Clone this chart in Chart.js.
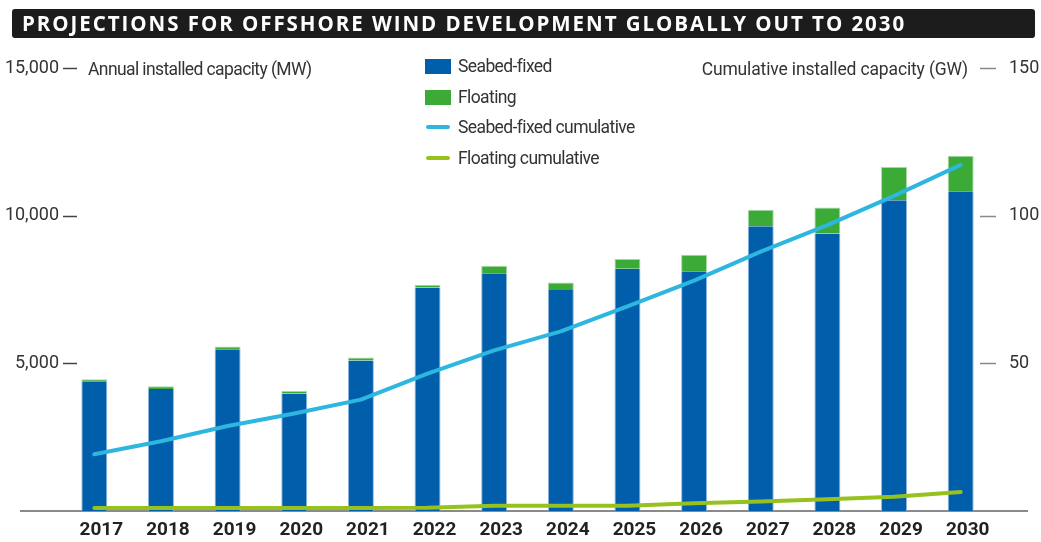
<!DOCTYPE html>
<html>
<head>
<meta charset="utf-8">
<title>Offshore wind projections</title>
<script src="https://cdn.jsdelivr.net/npm/chart.js@4"></script>
<style>
  html, body { margin: 0; padding: 0; background: #fff; }
  #wrap { position: relative; width: 1041px; height: 542px; overflow: hidden; font-family: Roboto, "Open Sans", sans-serif; }
  #chart { position: absolute; left: 0; top: 0; }
  #title {
    position: absolute; left: 12px; top: 9px; width: 1023px; height: 29px;
    background: #1c1c1c; border-radius: 3px; color: #fff;
    font: bold 20.5px "Open Sans", sans-serif; letter-spacing: 1.95px;
    line-height: 29px; padding-left: 10px; box-sizing: border-box; white-space: nowrap;
  }
  .axis-title { position: absolute; top: 57px; font-size: 17.5px; color: #333; white-space: nowrap; line-height: 24px; }
  #left-title { left: 88px; letter-spacing: -0.6px; }
  #right-title { right: 73px; letter-spacing: -0.15px; }
  #legend { position: absolute; left: 425px; top: 51px; }
  .item { position: relative; height: 30.5px; line-height: 30.5px; padding-left: 33px; font-size: 17.5px; letter-spacing: -0.6px; color: #333; white-space: nowrap; }
  .item .box { position: absolute; left: 0; top: 8px; width: 26px; height: 15px; }
  .item .line { position: absolute; left: 1px; top: 13px; width: 24px; height: 4px; border-radius: 2px; }
</style>
</head>
<body>
<div id="wrap">
  <canvas id="chart" width="1041" height="542"></canvas>
  <div id="title">PROJECTIONS FOR OFFSHORE WIND DEVELOPMENT GLOBALLY OUT TO 2030</div>
  <div class="axis-title" id="left-title">Annual installed capacity (MW)</div>
  <div class="axis-title" id="right-title">Cumulative installed capacity (GW)</div>
  <div id="legend"></div>
</div>
<script>
// Years
const YEARS = ['2017', '2018', '2019', '2020', '2021', '2022', '2023', '2024', '2025', '2026', '2027', '2028', '2029', '2030'];

// Annual installed capacity (MW)
const SEABED_ANNUAL = [4390, 4130, 5480, 3980, 5100, 7570, 8050, 7480, 8200, 8120, 9640, 9400, 10520, 10830];
const FLOATING_ANNUAL = [70, 90, 90, 80, 100, 90, 250, 260, 330, 560, 560, 880, 1130, 1200];

// Cumulative installed capacity (GW)
const SEABED_CUMULATIVE = [19.2, 23.6, 28.8, 33.0, 37.7, 46.5, 54.4, 60.8, 69.3, 78.0, 87.8, 96.8, 106.7, 117.2];
const FLOATING_CUMULATIVE = [1.0, 1.0, 1.0, 1.0, 1.0, 1.1, 1.8, 1.8, 1.8, 2.6, 3.2, 4.0, 4.8, 6.4];

// Axis ticks
const LEFT_TICKS = [5000, 10000, 15000];
const RIGHT_TICKS = [50, 100, 150];

const COLORS = {
  seabed: '#005EAA',
  floating: '#3CAA36',
  seabedLine: '#2DB6E0',
  floatingLine: '#97C11F',
  text: '#333333'
};

// Short dash marks next to tick labels + long baseline
const axisMarks = {
  id: 'axisMarks',
  beforeDatasetsDraw(chart) {
    const { ctx, chartArea, scales } = chart;
    ctx.save();
    const y0 = scales.y.getPixelForValue(0);
    ctx.strokeStyle = '#8a8a8a';
    ctx.lineWidth = 2;
    ctx.beginPath();
    ctx.moveTo(chartArea.left - 41, y0);
    ctx.lineTo(chartArea.right + 34, y0);
    ctx.stroke();

    ctx.lineWidth = 1.5;
    ctx.strokeStyle = '#444';
    LEFT_TICKS.forEach(v => {
      const p = Math.round(scales.y.getPixelForValue(v)) + 0.5;
      ctx.beginPath();
      ctx.moveTo(chartArea.left + 2, p);
      ctx.lineTo(chartArea.left + 16, p);
      ctx.stroke();
    });
    ctx.strokeStyle = '#888';
    RIGHT_TICKS.forEach(v => {
      const p = Math.round(scales.y1.getPixelForValue(v)) + 0.5;
      ctx.beginPath();
      ctx.moveTo(chartArea.right - 14, p);
      ctx.lineTo(chartArea.right + 2, p);
      ctx.stroke();
    });
    ctx.restore();
  }
};

const chart = new Chart(document.getElementById('chart'), {
  data: {
    labels: YEARS,
    datasets: [
      {
        type: 'line',
        label: 'Seabed-fixed cumulative',
        data: SEABED_CUMULATIVE,
        yAxisID: 'y1',
        borderColor: COLORS.seabedLine,
        backgroundColor: COLORS.seabedLine,
        borderWidth: 4,
        pointRadius: 0,
        borderCapStyle: 'round',
        borderJoinStyle: 'round',
        tension: 0,
        order: 0
      },
      {
        type: 'line',
        label: 'Floating cumulative',
        data: FLOATING_CUMULATIVE,
        yAxisID: 'y1',
        borderColor: COLORS.floatingLine,
        backgroundColor: COLORS.floatingLine,
        borderWidth: 4,
        pointRadius: 0,
        borderCapStyle: 'round',
        borderJoinStyle: 'round',
        tension: 0,
        order: 0
      },
      {
        type: 'bar',
        label: 'Seabed-fixed',
        data: SEABED_ANNUAL,
        yAxisID: 'y',
        backgroundColor: COLORS.seabed,
        borderColor: '#8db7de',
        borderWidth: { left: 1, right: 1, top: 0, bottom: 0 },
        barPercentage: 0.39,
        categoryPercentage: 1,
        order: 1
      },
      {
        type: 'bar',
        label: 'Floating',
        data: FLOATING_ANNUAL,
        yAxisID: 'y',
        backgroundColor: COLORS.floating,
        borderColor: '#a9d8a4',
        borderWidth: { left: 1, right: 1, top: 1, bottom: 0 },
        barPercentage: 0.39,
        categoryPercentage: 1,
        order: 1
      }
    ]
  },
  options: {
    responsive: false,
    animation: false,
    layout: { padding: { top: 68, left: 0, right: 0, bottom: 0 } },
    plugins: {
      legend: { display: false },
      tooltip: { enabled: false },
      title: { display: false }
    },
    scales: {
      x: {
        stacked: true,
        grid: { display: false, drawTicks: false },
        border: { display: false },
        ticks: {
          color: '#222',
          font: { family: 'Roboto', size: 19, weight: 'bold' },
          padding: 8,
          labelOffset: 7,
          maxRotation: 0
        },
        afterFit(scale) { scale.height = 31; }
      },
      y: {
        position: 'left',
        stacked: true,
        min: 0,
        max: 15000,
        afterBuildTicks(scale) { scale.ticks = LEFT_TICKS.map(v => ({ value: v })); },
        grid: { display: false, drawTicks: false },
        border: { display: false },
        ticks: {
          color: COLORS.text,
          font: { family: 'Roboto', size: 18 },
          padding: 2,
          callback: v => v.toLocaleString('en-US')
        },
        afterFit(scale) { scale.width = 61; }
      },
      y1: {
        position: 'right',
        stacked: false,
        min: 0,
        max: 150,
        afterBuildTicks(scale) { scale.ticks = RIGHT_TICKS.map(v => ({ value: v })); },
        grid: { display: false, drawTicks: false },
        border: { display: false },
        ticks: {
          color: COLORS.text,
          font: { family: 'Roboto', size: 18 },
          padding: 15,
          callback: v => String(v)
        },
        afterFit(scale) { scale.width = 47; }
      }
    }
  },
  plugins: [axisMarks]
});

// Legend built from the datasets, bars first then lines
const legendEl = document.getElementById('legend');
const legendOrder = [2, 3, 0, 1];
legendOrder.forEach(i => {
  const ds = chart.data.datasets[i];
  const item = document.createElement('div');
  item.className = 'item';
  const mark = document.createElement('span');
  mark.className = ds.type === 'bar' ? 'box' : 'line';
  mark.style.background = ds.backgroundColor;
  item.appendChild(mark);
  item.appendChild(document.createTextNode(ds.label));
  legendEl.appendChild(item);
});
</script>
</body>
</html>
